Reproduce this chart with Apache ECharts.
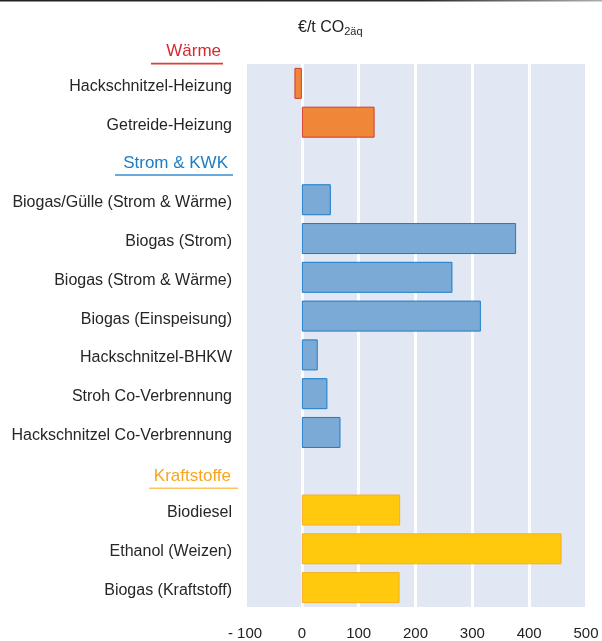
<!DOCTYPE html>
<html>
<head>
<meta charset="utf-8">
<script src="https://cdn.jsdelivr.net/npm/echarts@6/dist/echarts.min.js"></script>
<style>
html,body{margin:0;padding:0;background:#fff;}
#chart{width:602px;height:641px;}
</style>
</head>
<body>
<div id="chart"></div>
<script>
// ---- data ----
const categories = [
  'Hackschnitzel-Heizung',
  'Getreide-Heizung',
  'Strom & KWK',
  'Biogas/Gülle (Strom & Wärme)',
  'Biogas (Strom)',
  'Biogas (Strom & Wärme)',
  'Biogas (Einspeisung)',
  'Hackschnitzel-BHKW',
  'Stroh Co-Verbrennung',
  'Hackschnitzel Co-Verbrennung',
  'Kraftstoffe',
  'Biodiesel',
  'Ethanol (Weizen)',
  'Biogas (Kraftstoff)'
];
const headerNames = ['Wärme', 'Strom & KWK', 'Kraftstoffe'];
const waermeCats = ['Hackschnitzel-Heizung', 'Getreide-Heizung'];
const waermeValues = [-13, 128];
const stromCats = ['Biogas/Gülle (Strom & Wärme)', 'Biogas (Strom)', 'Biogas (Strom & Wärme)', 'Biogas (Einspeisung)', 'Hackschnitzel-BHKW', 'Stroh Co-Verbrennung', 'Hackschnitzel Co-Verbrennung'];
const stromValues = [51, 377, 265, 315, 28, 45, 68];
const kraftCats = ['Biodiesel', 'Ethanol (Weizen)', 'Biogas (Kraftstoff)'];
const kraftValues = [173, 457, 172];
const xTicks = [-100, 0, 100, 200, 300, 400, 500];

function seriesData(cats, vals) {
  return categories.map(c => {
    const i = cats.indexOf(c);
    return i >= 0 ? vals[i] : null;
  });
}

const chart = echarts.init(document.getElementById('chart'), null, {renderer: 'canvas'});
const FONT = '"Liberation Sans", Arial, sans-serif';

const barCommon = {
  type: 'bar',
  barWidth: 31,
  barGap: '-100%',
  silent: true
};

const option = {
  animation: false,
  backgroundColor: '#ffffff',
  textStyle: {fontFamily: FONT},
  grid: {
    left: 245, right: 16, top: 64, bottom: 34,
    show: true, backgroundColor: '#e1e8f4', borderWidth: 0
  },
  xAxis: {
    type: 'value',
    min: xTicks[0], max: xTicks[xTicks.length - 1], interval: 100,
    axisLine: {show: false},
    axisTick: {show: false},
    splitLine: {show: true, lineStyle: {color: '#ffffff', width: 3}},
    axisLabel: {
      color: '#222222', fontSize: 15, fontFamily: FONT, margin: 19,
      formatter: v => v < 0 ? '- ' + Math.abs(v) : String(v)
    }
  },
  yAxis: {
    type: 'category',
    data: categories,
    inverse: true,
    axisLine: {show: false},
    axisTick: {show: false},
    splitLine: {show: false},
    axisLabel: {
      color: '#262626', fontSize: 16, fontFamily: FONT, margin: 13,
      formatter: v => headerNames.indexOf(v) >= 0 ? '' : '{l|' + v + '}',
      rich: {l: {color: '#262626', fontSize: 16, fontFamily: FONT, padding: [6, 0, 0, 0]}}
    }
  },
  series: [
    Object.assign({}, barCommon, {
      name: 'Wärme',
      data: seriesData(waermeCats, waermeValues),
      itemStyle: {color: '#f08638', borderColor: '#d4382c', borderWidth: 1}
    }),
    Object.assign({}, barCommon, {
      name: 'Strom & KWK',
      data: seriesData(stromCats, stromValues),
      itemStyle: {color: '#7aaad5', borderColor: '#1a7bc9', borderWidth: 1}
    }),
    Object.assign({}, barCommon, {
      name: 'Kraftstoffe',
      data: seriesData(kraftCats, kraftValues),
      itemStyle: {color: '#ffc90e', borderColor: '#f7ac22', borderWidth: 1}
    })
  ]
};
chart.setOption(option);

// headers and title as graphics, positioned via the axis scale
const band = chart.convertToPixel({yAxisIndex: 0}, categories[1]) - chart.convertToPixel({yAxisIndex: 0}, categories[0]);
const yFirst = chart.convertToPixel({yAxisIndex: 0}, categories[0]);
const headerStyles = [
  {name: headerNames[0], y: yFirst - band * 0.82, right: 221, ul: [151, 223], color: '#d42a2f', ulColor: '#dd3b3b'},
  {name: headerNames[1], y: chart.convertToPixel({yAxisIndex: 0}, headerNames[1]) + 2, right: 228, ul: [115, 233], color: '#1e7cc3', ulColor: '#3a8ccf'},
  {name: headerNames[2], y: chart.convertToPixel({yAxisIndex: 0}, headerNames[2]) + 5, right: 231, ul: [149, 238], color: '#f7a51f', ulColor: '#fcc35e'}
];
const graphics = [];
headerStyles.forEach(h => {
  graphics.push({
    type: 'text', silent: true,
    style: {x: h.right, y: h.y, text: h.name, fill: h.color, font: '17px ' + FONT, textAlign: 'right', textVerticalAlign: 'middle'}
  });
  graphics.push({
    type: 'line', silent: true,
    shape: {x1: h.ul[0], y1: h.y + 12, x2: h.ul[1], y2: h.y + 12},
    style: {stroke: h.ulColor, lineWidth: 1.6}
  });
});
graphics.push({
  type: 'text', silent: true,
  style: {
    x: 298, y: 28, textVerticalAlign: 'middle',
    rich: {a: {fontSize: 16, fontFamily: FONT, fill: '#222'}, b: {fontSize: 11, fontFamily: FONT, fill: '#222', padding: [7, 0, 0, 0]}},
    text: '{a|€/t CO}{b|2äq}'
  }
});
graphics.push({
  type: 'line', silent: true,
  shape: {x1: 0, y1: 0.75, x2: 602, y2: 0.75},
  style: {
    lineWidth: 1.5,
    stroke: new echarts.graphic.LinearGradient(0, 0, 1, 0, [
      {offset: 0, color: '#222222'}, {offset: 0.7, color: '#2a2a2a'}, {offset: 1, color: '#b0b0b0'}
    ])
  }
});
chart.setOption({graphic: graphics});
</script>
</body>
</html>
